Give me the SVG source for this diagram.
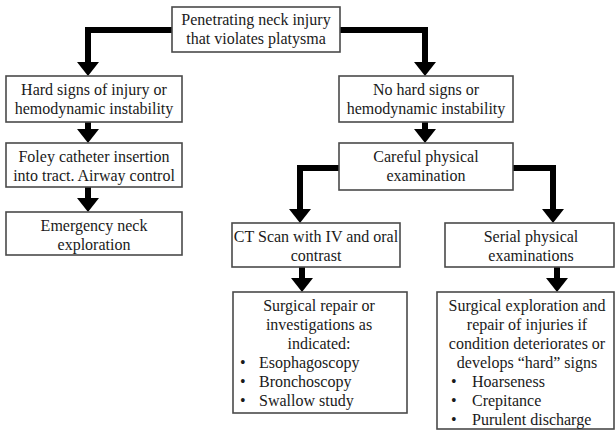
<svg xmlns="http://www.w3.org/2000/svg" width="616" height="432" viewBox="0 0 616 432">
<style>
.box{fill:#fff;stroke:#4a4a4a;stroke-width:1.6}
text{font-family:"Liberation Serif","Times New Roman",serif;font-size:16px;fill:#1a1a1a}
.c{text-anchor:middle}
.conn{fill:none;stroke:#000;stroke-width:6;stroke-linejoin:miter;marker-end:url(#ah)}
</style>
<defs>
<marker id="ah" markerUnits="userSpaceOnUse" markerWidth="14" markerHeight="22" viewBox="0 0 14 22" refX="0" refY="11" orient="auto">
<path d="M0,0 L14,11 L0,22 z" fill="#000"/>
</marker>
</defs>
<rect width="616" height="432" fill="#fff"/>
<g id="connectors">
<path class="conn" d="M172,30 H88 V62"/>
<path class="conn" d="M340,30 H425 V62"/>
<path class="conn" d="M88,122 V129"/>
<path class="conn" d="M88,187 V198"/>
<path class="conn" d="M425,122 V129"/>
<path class="conn" d="M339,168 H300 V209"/>
<path class="conn" d="M513,168 H553 V209"/>
<path class="conn" d="M302,267 V278"/>
<path class="conn" d="M557,267 V278"/>
</g>
<g id="n-top">
<rect class="box" x="172" y="7" width="168" height="45"/>
<text class="c" x="256" y="25">Penetrating neck injury</text>
<text class="c" x="256" y="44">that violates platysma</text>
</g>
<g id="n-hard">
<rect class="box" x="6" y="76" width="176" height="46"/>
<text class="c" x="94" y="95">Hard signs of injury or</text>
<text class="c" x="94" y="114">hemodynamic instability</text>
</g>
<g id="n-nohard">
<rect class="box" x="339" y="76" width="174" height="46"/>
<text class="c" x="426" y="95">No hard signs or</text>
<text class="c" x="426" y="114">hemodynamic instability</text>
</g>
<g id="n-foley">
<rect class="box" x="6" y="143" width="176" height="44"/>
<text class="c" x="94" y="162">Foley catheter insertion</text>
<text class="c" x="94" y="181">into tract. Airway control</text>
</g>
<g id="n-emergency">
<rect class="box" x="6" y="212" width="176" height="43"/>
<text class="c" x="94" y="231">Emergency neck</text>
<text class="c" x="94" y="250">exploration</text>
</g>
<g id="n-careful">
<rect class="box" x="339" y="143" width="174" height="47"/>
<text class="c" x="426" y="162">Careful physical</text>
<text class="c" x="426" y="181">examination</text>
</g>
<g id="n-ct">
<rect class="box" x="232" y="223" width="168" height="44"/>
<text class="c" x="316" y="242">CT Scan with IV and oral</text>
<text class="c" x="316" y="261">contrast</text>
</g>
<g id="n-serial">
<rect class="box" x="445" y="223" width="169" height="44"/>
<text class="c" x="531" y="242">Serial physical</text>
<text class="c" x="531" y="261">examinations</text>
</g>
<g id="n-repair">
<rect class="box" x="233" y="292" width="174" height="121"/>
<text class="c" x="319" y="311">Surgical repair or</text>
<text class="c" x="319" y="330">investigations as</text>
<text class="c" x="319" y="349">indicated:</text>
<text x="240" y="368">•</text><text x="259" y="368">Esophagoscopy</text>
<text x="240" y="387">•</text><text x="259" y="387">Bronchoscopy</text>
<text x="240" y="406">•</text><text x="259" y="406">Swallow study</text>
</g>
<g id="n-explore">
<rect class="box" x="437" y="292" width="177" height="137"/>
<text class="c" x="527" y="311">Surgical exploration and</text>
<text class="c" x="527" y="330">repair of injuries if</text>
<text class="c" x="527" y="349">condition deteriorates or</text>
<text class="c" x="527" y="368">develops “hard” signs</text>
<text x="451" y="387">•</text><text x="472" y="387">Hoarseness</text>
<text x="451" y="406">•</text><text x="472" y="406">Crepitance</text>
<text x="451" y="425">•</text><text x="472" y="425">Purulent discharge</text>
</g>
</svg>
